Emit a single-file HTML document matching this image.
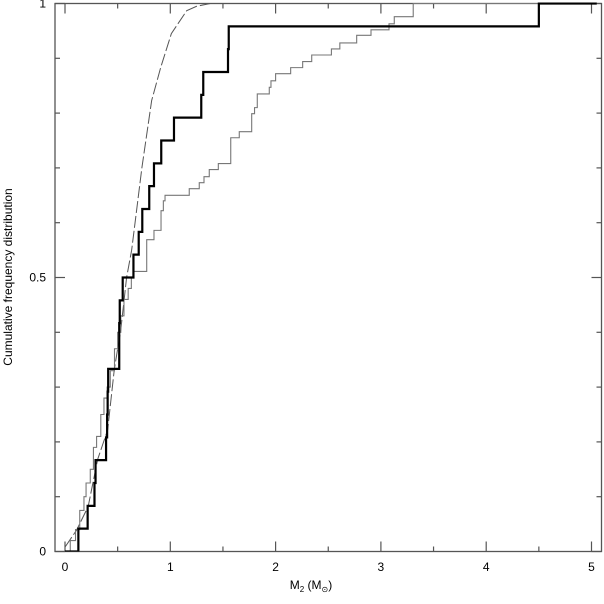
<!DOCTYPE html>
<html><head><meta charset="utf-8"><style>
body{margin:0;background:#fff}
svg text{font-family:"Liberation Sans",sans-serif;fill:#000}
</style></head><body>
<svg id="chart" width="604" height="599" viewBox="0 0 604 599" xmlns="http://www.w3.org/2000/svg">
<g id="axes"></g>
<g id="series"></g>
<text x="0" y="0" font-size="12" text-anchor="middle" transform="translate(12,277) rotate(-90)">Cumulative frequency distribution</text>
<text x="311" y="589" font-size="12" text-anchor="middle">M<tspan font-size="8" dy="3">2</tspan><tspan dy="-3"> (M</tspan><tspan font-size="8" dy="3">⊙</tspan><tspan dy="-3">)</tspan></text>
</svg>
<script>
const xTicks=[0,1,2,3,4,5];
const yTickLabels=[0,0.5,1];
const thickX=[0,0.127,0.215,0.28,0.29,0.39,0.40,0.405,0.41,0.515,0.52,0.548,0.65,0.70,0.734,0.80,0.845,0.914,1.035,1.294,1.313,1.548,1.555,4.5,5.05];
const thickY=[0,0.0417,0.0833,0.125,0.1667,0.2083,0.25,0.2917,0.3333,0.4167,0.4583,0.5,0.5417,0.5833,0.625,0.6667,0.7083,0.75,0.7917,0.8333,0.875,0.9167,0.9583,1,1];
const greyX=[0,0.05,0.1,0.14,0.18,0.2,0.24,0.27,0.3,0.34,0.37,0.4,0.43,0.47,0.5,0.53,0.56,0.6,0.63,0.65,0.776,0.845,0.912,0.934,0.95,1.18,1.275,1.32,1.37,1.456,1.574,1.655,1.773,1.80,1.826,1.94,1.956,2.0,2.143,2.257,2.343,2.53,2.61,2.77,2.906,3.077,3.127,3.307,5.05];
const greyY=[0,0.02,0.04,0.075,0.1,0.125,0.15,0.19,0.21,0.25,0.28,0.3,0.33,0.37,0.4,0.43,0.46,0.48,0.5,0.511,0.569,0.586,0.622,0.64,0.65,0.662,0.673,0.684,0.697,0.708,0.755,0.766,0.799,0.81,0.835,0.847,0.859,0.872,0.883,0.894,0.906,0.917,0.928,0.942,0.952,0.963,0.976,1,1];
const modelX=[0,0.11,0.22,0.31,0.405,0.468,0.53,0.585,0.633,0.73,0.823,0.91,1.01,1.156,1.25,1.38,2,3,5.05];
const modelY=[0.008,0.039,0.082,0.168,0.222,0.332,0.405,0.5,0.55,0.70,0.823,0.884,0.945,0.987,0.995,1,1,1,1];
const L=55,R=601.5,T=3.5,B=551.5,X0=65,XS=105.3;
const sx=v=>X0+v*XS, sy=v=>B-v*(B-T);
const NS='http://www.w3.org/2000/svg';
const ax=document.getElementById('axes'), se=document.getElementById('series');
function mk(tag,attrs,parent){const e=document.createElementNS(NS,tag);for(const k in attrs)e.setAttribute(k,attrs[k]);parent.appendChild(e);return e;}
const frame=mk('rect',{x:L,y:T,width:R-L,height:B-T,fill:'none',stroke:'#555','stroke-width':1.3},ax);


for(let i=0;i<=10;i++){const v=i/10,len=(i%5===0)?10:5;
 const t1=mk('line',{x1:L,x2:L+len,y1:sy(v),y2:sy(v),stroke:'#555','stroke-width':1.2},ax);
 
 
 const t2=mk('line',{x1:R,x2:R-len,y1:sy(v),y2:sy(v),stroke:'#555','stroke-width':1.2},ax);
 
 }
for(let i=0;i<=10;i++){const v=i/2,len=(i%2===0)?10:5;
 const t1=mk('line',{x1:sx(v),x2:sx(v),y1:B,y2:B-len,stroke:'#555','stroke-width':1.2},ax);
 
 
 const t2=mk('line',{x1:sx(v),x2:sx(v),y1:T,y2:T+len,stroke:'#555','stroke-width':1.2},ax);
 
 }
xTicks.forEach(v=>{const t=mk('text',{x:sx(v),y:571,'font-size':12,'text-anchor':'middle'},ax);t.textContent=v;
 
 });
yTickLabels.forEach(v=>{const t=mk('text',{x:46,y:sy(v)+4,'font-size':12,'text-anchor':'end'},ax);t.textContent=v;
 
 });
function stepPath(xs,ys){let d='M'+sx(xs[0])+','+sy(0);for(let i=0;i<xs.length;i++){d+=' L'+sx(xs[i])+','+sy(i?ys[i-1]:0)+' L'+sx(xs[i])+','+sy(ys[i]);}return d;}
function linePath(xs,ys){return xs.map((x,i)=>(i?'L':'M')+sx(x)+','+sy(ys[i])).join(' ');}
const cp=mk('clipPath',{id:'clip'},se);mk('rect',{x:L,y:T-1,width:R-L,height:B-T+1},cp);
const m=mk('path',{d:linePath(modelX,modelY),fill:'none',stroke:'#555','stroke-width':1,'stroke-dasharray':'12,3','clip-path':'url(#clip)'},se);


const g=mk('path',{d:stepPath(greyX,greyY),fill:'none',stroke:'#777','stroke-width':1.1,'clip-path':'url(#clip)'},se);


const k=mk('path',{d:stepPath(thickX,thickY),fill:'none',stroke:'#000','stroke-width':2.2,'clip-path':'url(#clip)'},se);


</script>
</body></html>
